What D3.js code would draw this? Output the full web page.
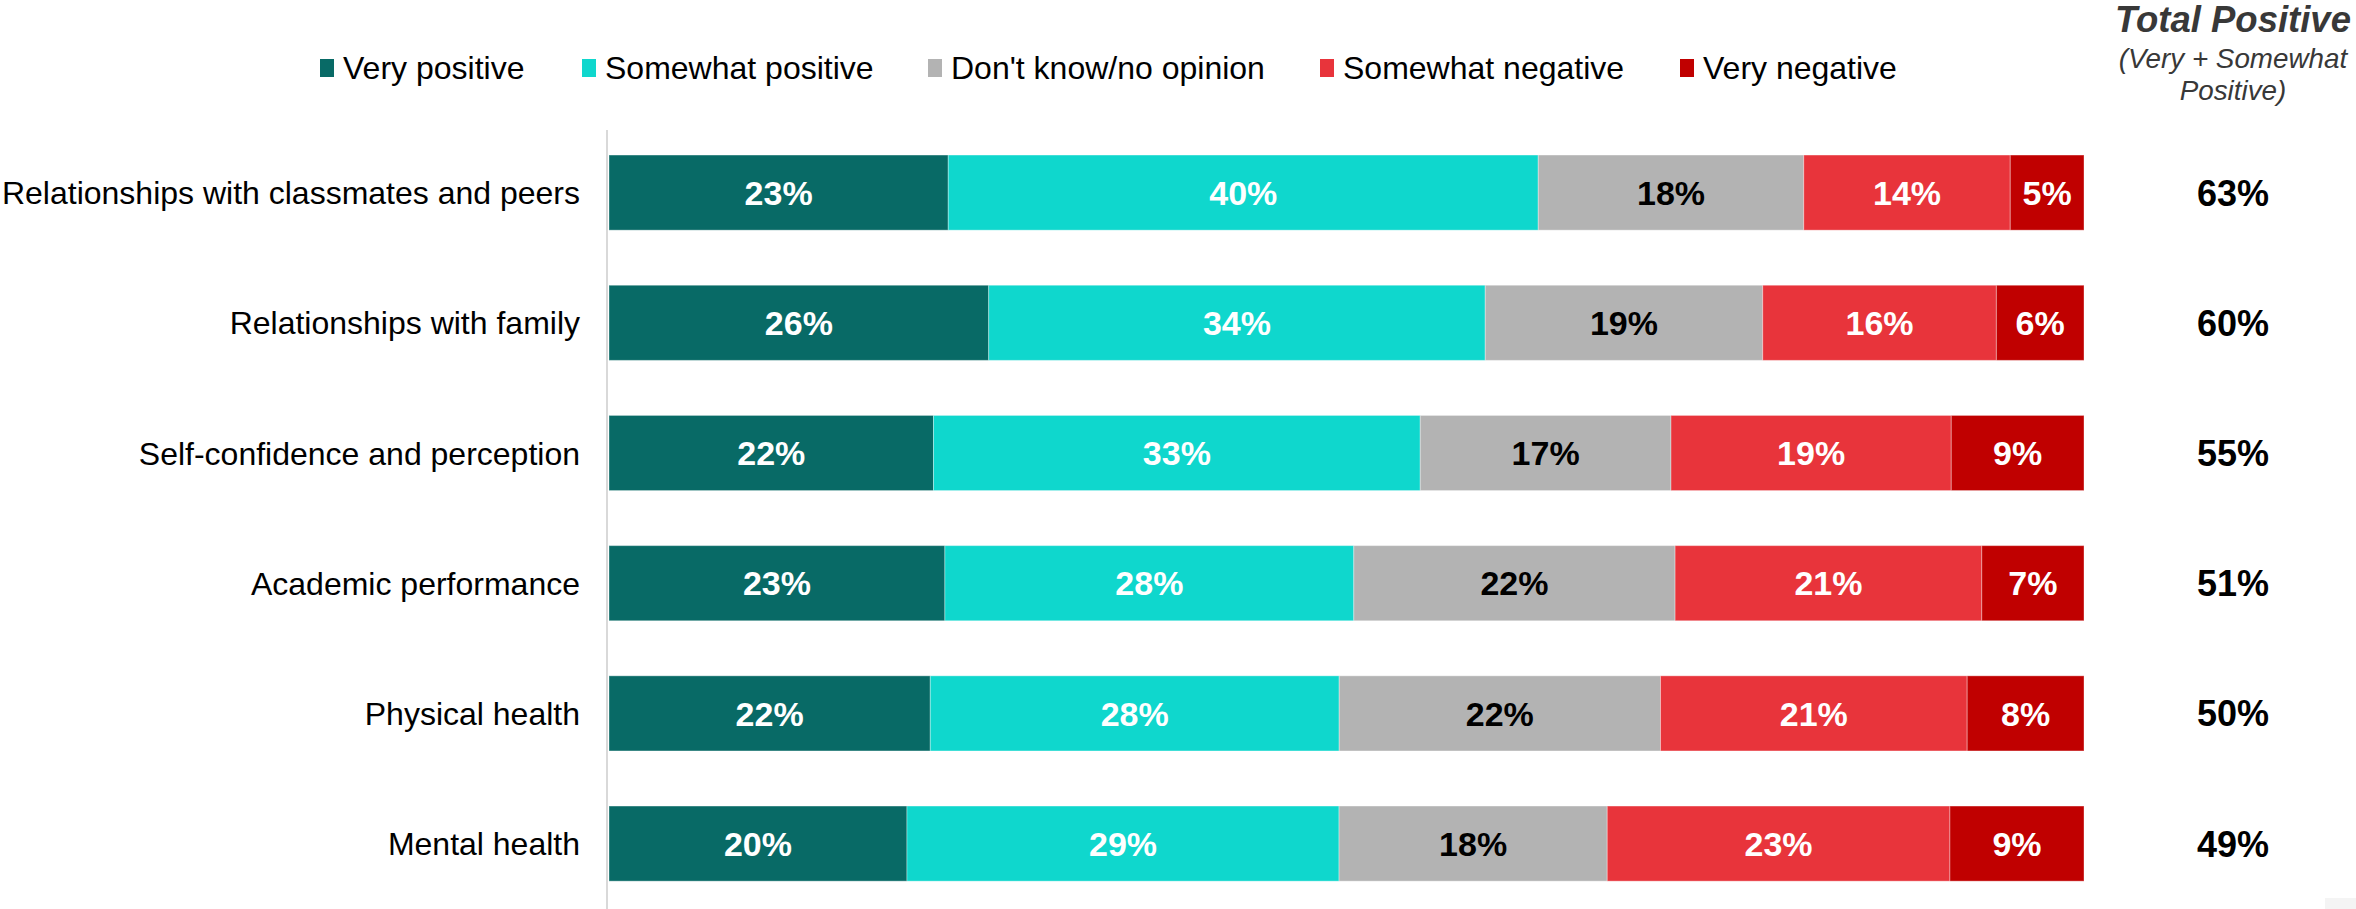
<!DOCTYPE html>
<html>
<head>
<meta charset="utf-8">
<script src="https://cdn.jsdelivr.net/npm/d3@7"></script>
<style>
  html, body { margin: 0; padding: 0; background: #fff; }
  svg { display: block; font-family: "Liberation Sans", Arial, sans-serif; }
</style>
</head>
<body>
<svg id="chart" width="2356" height="909"></svg>
<script>
// Survey areas (top to bottom)
const categories = [
  "Relationships with classmates and peers",
  "Relationships with family",
  "Self-confidence and perception",
  "Academic performance",
  "Physical health",
  "Mental health"
];

// Response shares (%) per area
const veryPositive     = [23, 26, 22, 23, 22, 20];
const somewhatPositive = [40, 34, 33, 28, 28, 29];
const dontKnow         = [18, 19, 17, 22, 22, 18];
const somewhatNegative = [14, 16, 19, 21, 21, 23];
const veryNegative     = [5, 6, 9, 7, 8, 9];

const seriesNames = ["Very positive", "Somewhat positive", "Don't know/no opinion", "Somewhat negative", "Very negative"];
const seriesColors = ["#086a66", "#0fd7cd", "#b3b3b3", "#e8343b", "#c00000"];
const labelColors  = ["#ffffff", "#ffffff", "#000000", "#ffffff", "#ffffff"];
const seriesValues = [veryPositive, somewhatPositive, dontKnow, somewhatNegative, veryNegative];

// Build rows for d3.stack
const rows = categories.map((c, i) => {
  const r = { category: c };
  seriesNames.forEach((s, k) => { r[s] = seriesValues[k][i]; });
  return r;
});

const svg = d3.select("#chart");

const x = d3.scaleLinear().domain([0, 1]).range([609, 2084]);
const y = d3.scaleBand()
  .domain(categories)
  .range([127.5, 908.7])
  .paddingInner(0.423)
  .paddingOuter(0.2115);

// 100% stacked layout: each row spans the full width
const stacked = d3.stack()
  .keys(seriesNames)
  .offset(d3.stackOffsetExpand)(rows);

// Vertical baseline
svg.append("line")
  .attr("x1", 607).attr("x2", 607)
  .attr("y1", 130).attr("y2", 909)
  .attr("stroke", "#d9d9d9")
  .attr("stroke-width", 2);

// Bar segments
const layers = svg.append("g").selectAll("g")
  .data(stacked)
  .join("g")
  .attr("fill", (d, k) => seriesColors[k]);

layers.selectAll("rect")
  .data(d => d)
  .join("rect")
  .attr("x", d => x(d[0]))
  .attr("y", d => y(d.data.category))
  .attr("width", d => x(d[1]) - x(d[0]))
  .attr("height", y.bandwidth())
  .attr("stroke", "rgba(255,255,255,0.35)")
  .attr("stroke-width", 1);

// Segment value labels
stacked.forEach((layer, k) => {
  svg.append("g").selectAll("text")
    .data(layer)
    .join("text")
    .attr("x", d => (x(d[0]) + x(d[1])) / 2)
    .attr("y", d => y(d.data.category) + y.bandwidth() / 2)
    .attr("dy", "0.36em")
    .attr("text-anchor", "middle")
    .attr("font-size", 34)
    .attr("font-weight", "bold")
    .attr("fill", labelColors[k])
    .text(d => d.data[seriesNames[k]] + "%");
});

// Category labels
const yAxis = d3.axisLeft(y).tickSize(0).tickPadding(0);
const yAxisG = svg.append("g")
  .attr("transform", "translate(580,0)")
  .call(yAxis);
yAxisG.select(".domain").remove();
yAxisG.selectAll("text")
  .attr("font-family", "'Liberation Sans', Arial, sans-serif")
  .attr("font-size", 32)
  .attr("fill", "#000")
  .attr("dy", "0.36em");

// Total positive column
const totalX = 2233;
svg.append("g").selectAll("text")
  .data(categories)
  .join("text")
  .attr("x", totalX)
  .attr("y", c => y(c) + y.bandwidth() / 2)
  .attr("dy", "0.36em")
  .attr("text-anchor", "middle")
  .attr("font-size", 36)
  .attr("font-weight", "bold")
  .attr("fill", "#000")
  .text((c, i) => (veryPositive[i] + somewhatPositive[i]) + "%");

const header = svg.append("g").attr("fill", "#383838").attr("text-anchor", "middle");
header.append("text")
  .attr("x", totalX).attr("y", 32)
  .attr("font-size", 36.5).attr("font-weight", "bold").attr("font-style", "italic")
  .text("Total Positive");
header.append("text")
  .attr("x", totalX).attr("y", 68)
  .attr("font-size", 27.8).attr("font-style", "italic")
  .text("(Very + Somewhat");
header.append("text")
  .attr("x", totalX).attr("y", 100)
  .attr("font-size", 27.8).attr("font-style", "italic")
  .text("Positive)");

// Legend
const legendX = [320, 582, 928, 1320, 1680];
const legend = svg.append("g").selectAll("g")
  .data(seriesNames)
  .join("g")
  .attr("transform", (d, k) => `translate(${legendX[k]},0)`);
legend.append("rect")
  .attr("x", 0).attr("y", 59)
  .attr("width", 14).attr("height", 18)
  .attr("fill", (d, k) => seriesColors[k]);
legend.append("text")
  .attr("x", 23).attr("y", 79)
  .attr("font-size", 32)
  .attr("fill", "#000")
  .text(d => d);

// Small corner tab
svg.append("rect")
  .attr("x", 2325).attr("y", 898)
  .attr("width", 31).attr("height", 11)
  .attr("fill", "#f4f4f4");
</script>
</body>
</html>
